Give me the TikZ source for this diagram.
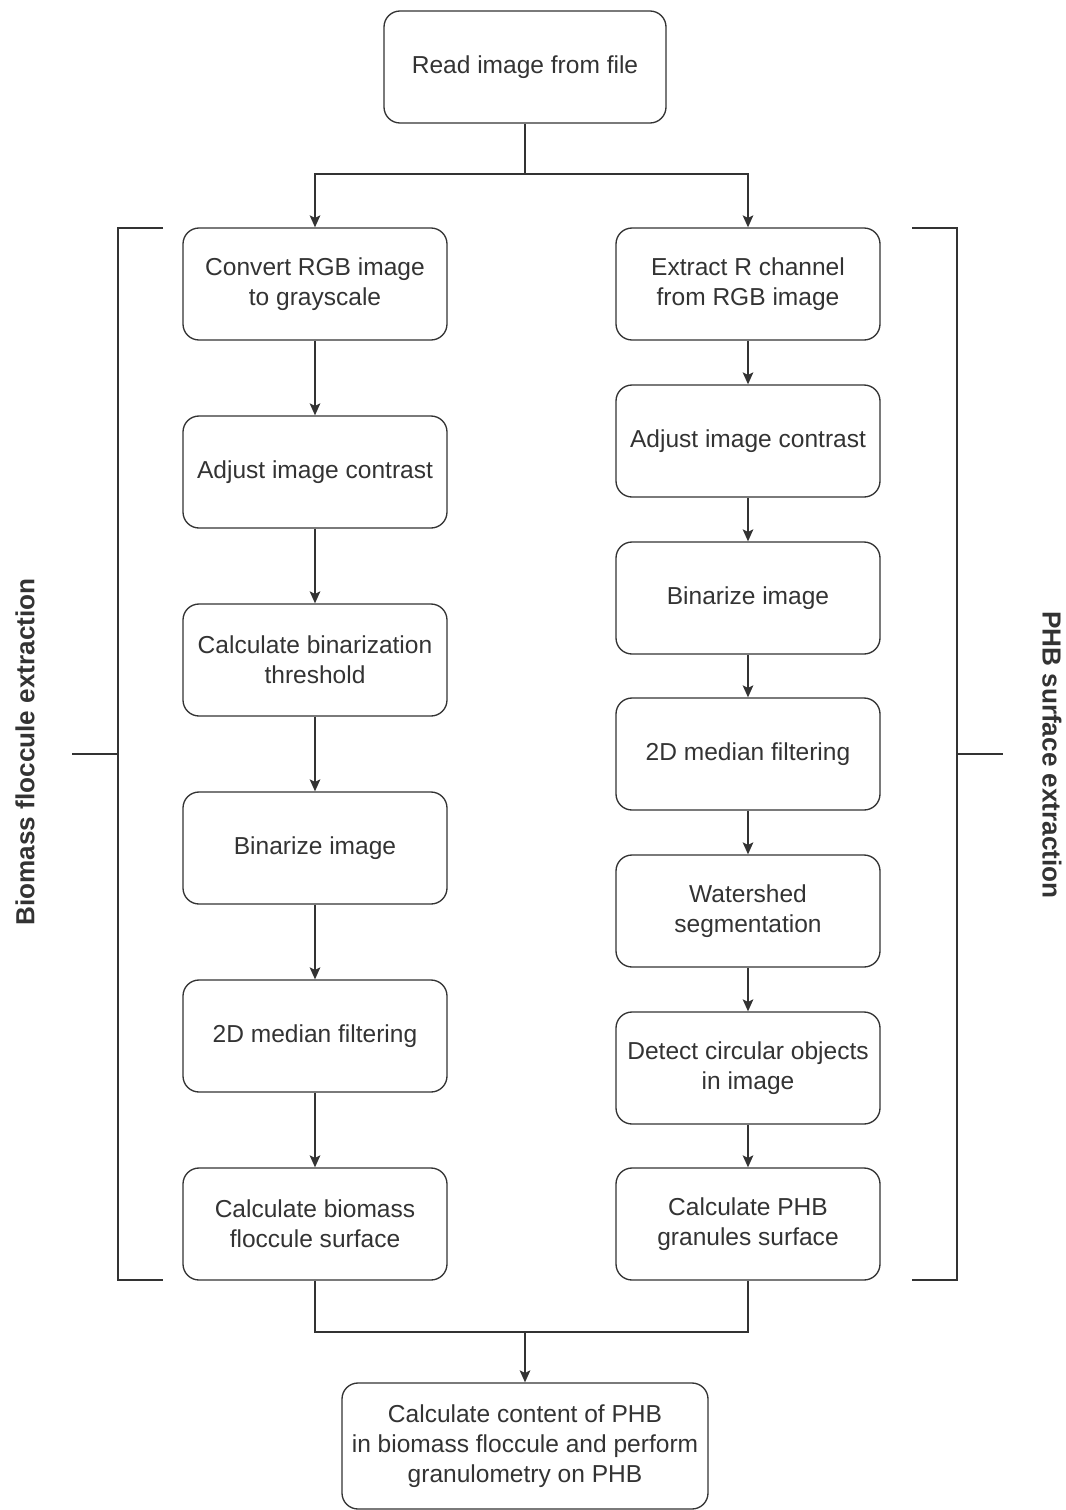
\documentclass[tikz,border=0pt]{standalone}
\usepackage{fontspec}
\setmainfont{Liberation Sans}
\usepackage{tikz}
\usetikzlibrary{arrows.meta}
\definecolor{ink}{HTML}{333333}

\begin{document}
\begin{tikzpicture}[x=0.75pt,y=-0.75pt]
      \tikzstyle{stepbox}=[rectangle,draw=ink,line width=1pt,rounded corners=12pt,minimum width=198pt,minimum height=84pt,align=center,text=ink,font=\fontsize{18.4}{22.5}\selectfont]
      \tikzstyle{link}=[draw=ink,line width=1pt]
      \tikzstyle{arr}=[link,-{Stealth[length=9pt,width=8pt,inset=2pt]}]
      \tikzstyle{side}=[text=ink,font=\bfseries\fontsize{19.6}{22.5}\selectfont]
      \useasboundingbox (0,0) rectangle (1065,1510);
      % top
      \node[stepbox,minimum width=211.5pt] (read) at (525,67) {Read image from file};
      % left column
      \node[stepbox] (gray) at (315,284) {Convert RGB image\\to grayscale};
      \node[stepbox] (lcon) at (315,472) {Adjust image contrast};
      \node[stepbox] (thr) at (315,660) {Calculate binarization\\threshold};
      \node[stepbox] (lbin) at (315,848) {Binarize image};
      \node[stepbox] (lmed) at (315,1036) {2D median filtering};
      \node[stepbox] (bio) at (315,1224) {Calculate biomass\\floccule surface};
      % right column
      \node[stepbox] (red) at (748,284) {Extract R channel\\from RGB image};
      \node[stepbox] (rcon) at (748,441) {Adjust image contrast};
      \node[stepbox] (rbin) at (748,598) {Binarize image};
      \node[stepbox] (rmed) at (748,754) {2D median filtering};
      \node[stepbox] (wat) at (748,911) {Watershed\\segmentation};
      \node[stepbox] (circ) at (748,1068) {Detect circular objects\\in image};
      \node[stepbox] (phb) at (748,1224) {Calculate PHB\\granules surface};
      % bottom
      \node[stepbox,minimum width=274.5pt,minimum height=94.5pt] (total) at (525,1446) {Calculate content of PHB\\in biomass floccule and perform\\granulometry on PHB};
      \coordinate (split) at (525,174);
      \coordinate (join) at (525,1332);
      \draw[link] (read) -- (split);
      \draw[arr] (split) -| (gray);
      \draw[arr] (split) -| (red);
      \foreach \a/\b in {gray/lcon,lcon/thr,thr/lbin,lbin/lmed,lmed/bio,red/rcon,rcon/rbin,rbin/rmed,rmed/wat,wat/circ,circ/phb}
        \draw[arr] (\a) -- (\b);
      \draw[link] (bio) |- (join);
      \draw[link] (phb) |- (join);
      \draw[arr] (join) -- (total);
      % brackets
      \draw[link] (163,228) -- (118,228) -- (118,1280) -- (163,1280);
      \draw[link] (72,754) -- (118,754);
      \draw[link] (912,228) -- (957,228) -- (957,1280) -- (912,1280);
      \draw[link] (957,754) -- (1003,754);
      \node[side,rotate=90] (lside) at (25,752) {Biomass floccule extraction};
      \node[side,rotate=-90] (rside) at (1052,755) {PHB surface extraction};
\end{tikzpicture}
\end{document}
